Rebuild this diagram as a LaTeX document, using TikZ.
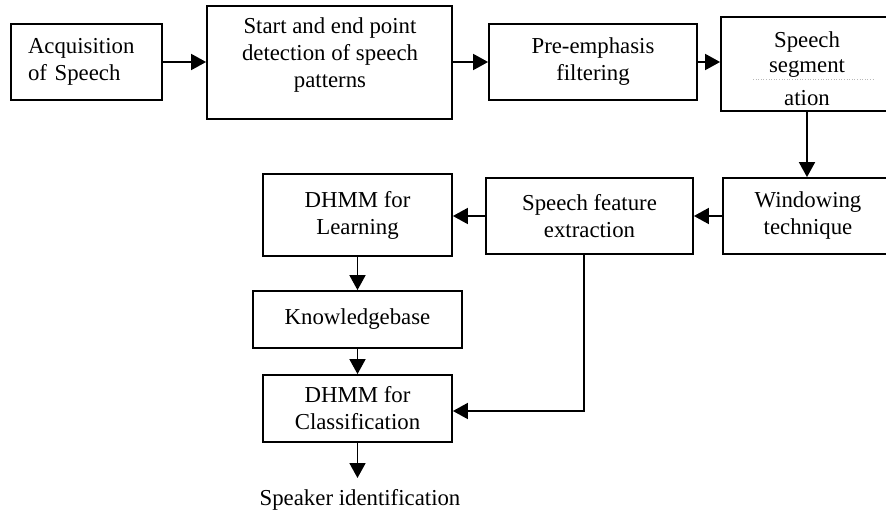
\documentclass[tikz,border=0pt]{standalone}
\usepackage{fontspec}
\setmainfont{Liberation Serif}
\usetikzlibrary{arrows.meta}
\begin{document}
\begin{tikzpicture}[x=1pt,y=-1pt,
  box/.style={draw,line width=1.8pt,rectangle,inner sep=0pt,align=center,font=\fontsize{22.8}{27}\selectfont},
  txt/.style={inner sep=0pt,align=center,font=\fontsize{22.8}{27}\selectfont},
  arr/.style={line width=1.8pt,-{Triangle[length=15pt,width=16pt]}}]
\useasboundingbox (0,0) rectangle (886,514);
\clip (0,0) rectangle (886,514);
% boxes
\node[box,minimum width=151pt,minimum height=76pt,text width=117pt,align=left] (acq) at (86.5,62) {Acquisition\\of Speech};
\node[box,minimum width=245pt,minimum height=113pt] (sep) at (329.5,62.5) {};
\node[txt] (sept) at (330,55) {Start and end point\\detection of speech\\patterns};
\node[box,minimum width=208pt,minimum height=76pt] (pre) at (593,62) {Pre-emphasis\\filtering};
\node[box,minimum width=172pt,minimum height=94pt] (seg) at (807,64) {};
\node[txt,anchor=base] (seg1) at (807,47) {Speech};
\node[txt,anchor=base] (seg2) at (807,72) {segment};
\node[txt,anchor=base] (seg3) at (807,105) {ation};
\draw[gray!55,dotted,line width=0.6pt] (753,79) -- (873,79);
\node[box,minimum width=170pt,minimum height=76pt] (win) at (808,216) {Windowing\\technique};
\node[box,minimum width=207pt,minimum height=76pt] (feat) at (589.5,216) {Speech feature\\extraction};
\node[box,minimum width=189pt,minimum height=82pt] (learn) at (357.5,215) {DHMM for\\Learning};
\node[box,minimum width=209pt,minimum height=57pt] (kb) at (357.5,319.5) {Knowledgebase};
\node[box,minimum width=189pt,minimum height=67pt] (cls) at (357.5,408.5) {DHMM for\\Classification};
\node[txt] (spk) at (360,500) {Speaker identification};
% connectors
\draw[arr] (acq.east) -- (acq.east -| sep.west);
\draw[arr] (sep.east |- pre.west) -- (pre.west);
\draw[arr] (pre.east) -- (pre.east -| seg.west);
\draw[arr] (seg.south) -- (seg.south |- win.north);
\draw[arr] (win.west) -- (win.west -| feat.east);
\draw[arr] (feat.west) -- (feat.west -| learn.east);
\draw[arr] (learn.south) -- (kb.north);
\draw[arr] (kb.south) -- (cls.north);
\coordinate (tap) at ([xshift=-5.5pt]feat.south);
\draw[arr] (tap) |- ([yshift=-2.5pt]cls.east);
\coordinate (spkend) at (357.5,478);
\draw[arr] (cls.south) -- (spkend);
\end{tikzpicture}
\end{document}
